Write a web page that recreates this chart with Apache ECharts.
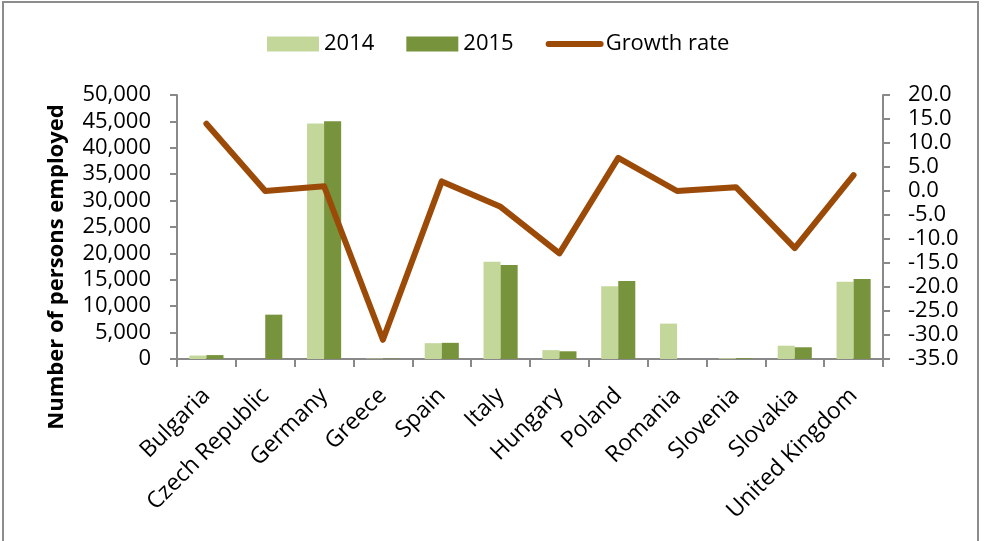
<!DOCTYPE html>
<html>
<head>
<meta charset="utf-8">
<script src="https://cdn.jsdelivr.net/npm/echarts@6/dist/echarts.min.js"></script>
<style>
  html, body { margin: 0; padding: 0; background: #fff; }
  #chart { width: 984px; height: 541px; }
</style>
</head>
<body>
<div id="chart"></div>
<script>
// Employment by country, two years, with year-on-year growth (%)
const countries = ['Bulgaria', 'Czech Republic', 'Germany', 'Greece', 'Spain', 'Italy',
  'Hungary', 'Poland', 'Romania', 'Slovenia', 'Slovakia', 'United Kingdom'];
const employed2014 = [650, null, 44600, 80, 3000, 18400, 1680, 13800, 6700, 150, 2520, 14650];
const employed2015 = [740, 8400, 45050, 55, 3060, 17800, 1460, 14750, null, 151, 2220, 15140];
const growthRate = [14.0, 0.0, 1.0, -31.0, 2.0, -3.3, -13.0, 6.9, 0.0, 0.8, -11.9, 3.3];

const leftTicks = { min: 0, max: 50000, interval: 5000 };
const rightTicks = { min: -35, max: 20, interval: 5 };

const FONT = '"Open Sans", sans-serif';
const AXIS_GRAY = '#898989';
const LINE_BROWN = '#9c4a08';

const chart = echarts.init(document.getElementById('chart'), null, { renderer: 'canvas' });

chart.setOption({
  animation: false,
  backgroundColor: '#fff',
  textStyle: { fontFamily: FONT, color: '#000' },
  graphic: [
    {
      type: 'rect',
      shape: { x: 3, y: 2, width: 975, height: 580 },
      style: { fill: 'none', stroke: '#8c8c8c', lineWidth: 2 },
      silent: true
    },
    {
      type: 'text',
      x: 57,
      y: 267,
      rotation: Math.PI / 2,
      style: {
        text: 'Number of persons employed',
        font: 'bold 22px ' + FONT,
        fill: '#000',
        align: 'center',
        verticalAlign: 'middle'
      },
      silent: true
    }
  ],
  legend: {
    left: 262,
    top: 28,
    itemWidth: 52,
    itemHeight: 15,
    itemGap: 32,
    textStyle: { fontFamily: FONT, fontSize: 22, color: '#000' },
    data: [
      { name: '2014', icon: 'rect' },
      { name: '2015', icon: 'rect' },
      {
        name: 'Growth rate',
        itemStyle: { color: 'rgba(0,0,0,0)', borderWidth: 0 },
        lineStyle: { color: LINE_BROWN, width: 6, cap: 'round' }
      }
    ]
  },
  grid: { left: 177, right: 101, top: 95, bottom: 182, containLabel: false },
  xAxis: {
    type: 'category',
    data: countries,
    boundaryGap: true,
    axisLine: { lineStyle: { color: AXIS_GRAY, width: 2 } },
    axisTick: { show: true, alignWithLabel: false, length: 8, lineStyle: { color: AXIS_GRAY, width: 2 } },
    axisLabel: {
      rotate: 45,
      interval: 0,
      margin: 33,
      fontFamily: FONT,
      fontSize: 23,
      color: '#000'
    },
    splitLine: { show: false }
  },
  yAxis: [
    {
      type: 'value',
      min: leftTicks.min,
      max: leftTicks.max,
      interval: leftTicks.interval,
      axisLine: { show: true, lineStyle: { color: AXIS_GRAY, width: 2 } },
      axisTick: { show: true, length: 7, lineStyle: { color: AXIS_GRAY, width: 2 } },
      axisLabel: {
        margin: 26,
        fontFamily: FONT,
        fontSize: 22,
        color: '#000',
        formatter: v => v.toLocaleString('en-US')
      },
      splitLine: { show: false }
    },
    {
      type: 'value',
      position: 'right',
      min: rightTicks.min,
      max: rightTicks.max,
      interval: rightTicks.interval,
      axisLine: { show: true, lineStyle: { color: AXIS_GRAY, width: 2 } },
      axisTick: { show: true, length: 7, lineStyle: { color: AXIS_GRAY, width: 2 } },
      axisLabel: {
        margin: 25,
        fontFamily: FONT,
        fontSize: 22,
        color: '#000',
        formatter: v => v.toFixed(1)
      },
      splitLine: { show: false }
    }
  ],
  series: [
    {
      name: '2014',
      type: 'bar',
      yAxisIndex: 0,
      data: employed2014,
      barGap: '0%',
      barCategoryGap: '42%',
      itemStyle: { color: '#c4d79b' }
    },
    {
      name: '2015',
      type: 'bar',
      yAxisIndex: 0,
      data: employed2015,
      barGap: '0%',
      barCategoryGap: '42%',
      itemStyle: { color: '#77933c' }
    },
    {
      name: 'Growth rate',
      type: 'line',
      yAxisIndex: 1,
      data: growthRate,
      symbol: 'none',
      smooth: false,
      z: 5,
      lineStyle: { color: LINE_BROWN, width: 6, cap: 'round', join: 'round' },
      itemStyle: { color: LINE_BROWN }
    }
  ]
});
</script>
</body>
</html>
